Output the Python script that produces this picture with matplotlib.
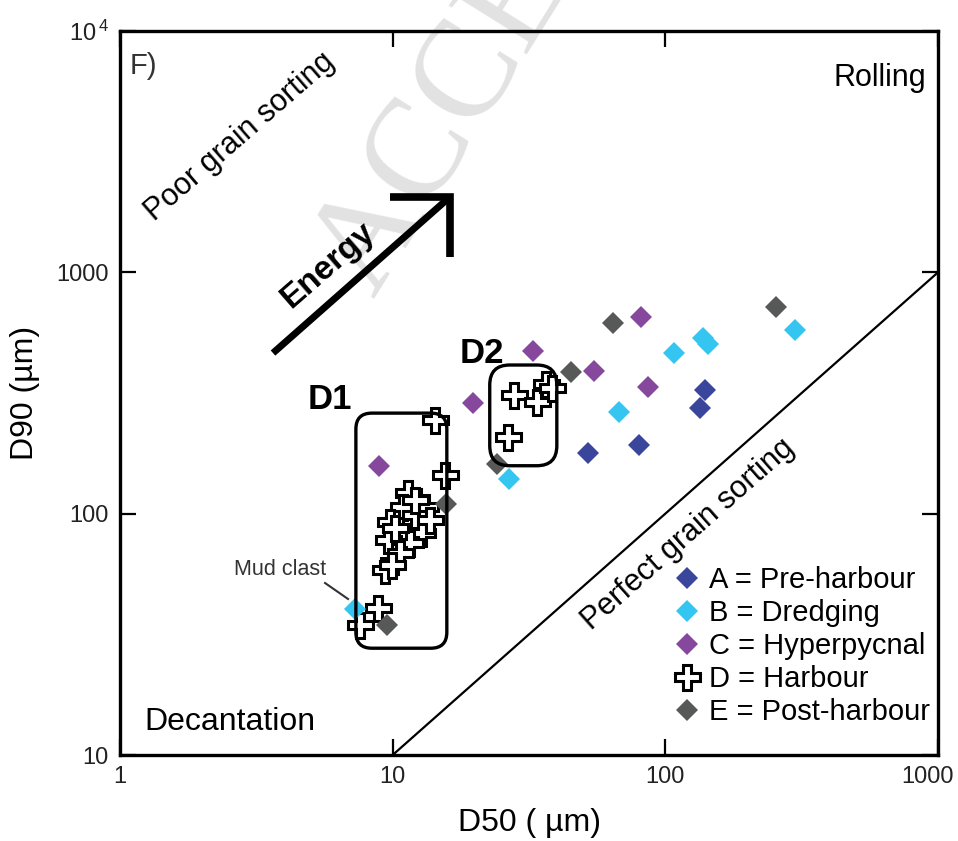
import matplotlib
matplotlib.use('Agg')
import matplotlib.pyplot as plt
from matplotlib.patches import FancyBboxPatch
from matplotlib.transforms import IdentityTransform, ScaledTranslation

plt.rcParams['font.family'] = ['Liberation Sans', 'DejaVu Sans']
plt.rcParams['mathtext.fontset'] = 'custom'
plt.rcParams['mathtext.rm'] = 'Liberation Sans Narrow'

# D50 / D90 values (um)
a_d50 = [139.7, 133.9, 51.9, 80.0]
a_d90 = [325.6, 273.4, 178.9, 192.6]

b_d50 = [107.5, 137.7, 143.7, 299.5, 67.6, 26.8, 7.27]
b_d90 = [462.0, 533.0, 505.0, 577.0, 264.7, 139.3, 40.2]

c_d50 = [81.2, 54.7, 86.5, 32.6, 19.75, 8.93]
c_d90 = [651.6, 391.4, 334.0, 473.7, 288.4, 157.6]

d_d50 = [27.9, 33.9, 36.5, 38.3, 26.5,
         14.3, 15.55, 11.4, 10.9, 13.1, 12.07, 9.77, 12.8, 9.63, 11.6,
         10.6, 9.37, 8.86, 7.59, 12.07, 13.7, 10.2, 9.94]
d_d90 = [310.4, 291.2, 344.7, 330.9, 208.5,
         244.5, 144.7, 121.5, 106.9, 106.9, 98.8, 92.6, 83.0, 77.8, 75.4,
         68.5, 58.4, 40.6, 34.6, 114.0, 94.2, 87.2, 61.3]

e_d50 = [64.1, 254.4, 45.1, 24.1, 15.7, 9.51]
e_d90 = [618.9, 716.9, 387.7, 160.7, 109.7, 34.6]

labels = ['A = Pre-harbour', 'B = Dredging', 'C = Hyperpycnal',
          'D = Harbour', 'E = Post-harbour']
colors = ['#3a469c', '#35c5f1', '#85489d', 'white', '#575958']

# group outlines (d50 min, d50 max, d90 min, d90 max)
d1_box = (7.33, 15.8, 27.7, 261.0)
d2_box = (22.7, 40.0, 158.0, 413.0)

fig = plt.figure(figsize=(9.58, 8.41), dpi=100)
ax = fig.add_axes([120 / 958, 1 - 755 / 841, 818 / 958, 724 / 841])
ax.set_xscale('log')
ax.set_yscale('log')
ax.set_xlim(1, 1000)
ax.set_ylim(10, 10000)

# watermark of the manuscript
ax.text(0.305, 0.625, 'ACCEPTED MANUSCRIPT', transform=fig.transFigure,
        rotation=58, fontsize=100, color='#e2e2e2', family='Liberation Serif',
        ha='left', va='bottom', zorder=0.2, clip_on=False)

# perfect sorting line
ax.plot([10, 1000], [10, 1000], color='k', lw=1.6, zorder=1)

ax.plot(d_d50, d_d90, ls='none', marker='P', ms=18, mfc='white', mec='k',
        mew=2.2, zorder=3, label=labels[3])
ax.plot(a_d50, a_d90, ls='none', marker='D', ms=11, color=colors[0],
        mew=0, zorder=4, label=labels[0])
ax.plot(b_d50, b_d90, ls='none', marker='D', ms=11, color=colors[1],
        mew=0, zorder=4, label=labels[1])
ax.plot(c_d50, c_d90, ls='none', marker='D', ms=11, color=colors[2],
        mew=0, zorder=4, label=labels[2])
ax.plot(e_d50, e_d90, ls='none', marker='D', ms=11, color=colors[4],
        mew=0, zorder=4, label=labels[4])

# rounded boxes around D1 / D2 (drawn in pixels so the corners stay round)
for box, rad in [(d1_box, 16), (d2_box, 20)]:
    (x0, y0), (x1, y1) = ax.transData.transform([(box[0], box[2]), (box[1], box[3])])
    p = FancyBboxPatch((x0, y0), x1 - x0, y1 - y0,
                       boxstyle='round,pad=0,rounding_size=%d' % rad,
                       transform=IdentityTransform(), fill=False,
                       ec='k', lw=2.4, zorder=5)
    ax.add_patch(p)

ax.text(5.9, 296, 'D1', fontsize=25, fontweight='bold', ha='center', va='center')
ax.text(21.3, 463, 'D2', fontsize=25, fontweight='bold', ha='center', va='center')

# energy arrow
ax.plot([3.64, 16.2], [463, 2051], color='k', lw=5, solid_capstyle='butt', zorder=2)
ax.plot([9.75, 16.2, 16.2], [2051, 2051, 1159], color='k', lw=5.5,
        solid_joinstyle='miter', solid_capstyle='butt', zorder=2)
ax.text(5.8, 1070, 'Energy', fontsize=24, fontweight='bold', rotation=41,
        ha='center', va='center')

ax.text(2.75, 3640, 'Poor grain sorting', fontsize=22, rotation=41,
        ha='center', va='center')
ax.text(121, 81.7, 'Perfect grain sorting', fontsize=22, rotation=41.5,
        ha='center', va='center')
ax.text(0.985, 0.935, 'Rolling', fontsize=22, transform=ax.transAxes,
        ha='right', va='center')
ax.text(0.03, 0.045, 'Decantation', fontsize=23, transform=ax.transAxes,
        ha='left', va='center')
ax.text(0.012, 0.952, 'F)', fontsize=21, color='#333333',
        transform=ax.transAxes, ha='left', va='center')

# mud clast note
ax.text(3.86, 58.5, 'Mud clast', fontsize=15.5, color='#333333',
        ha='center', va='center')
ax.plot([5.65, 6.86], [51.6, 44.3], color='#333333', lw=1.5)

ax.set_xticks([1, 10, 100, 1000])
ax.set_xticklabels(['1', '10', '100', '1000'])
ax.set_yticks([10, 100, 1000, 10000])
ax.set_yticklabels(['10', '100', '1000', r'$\mathregular{10^{\,4}}$'])
ax.minorticks_off()
ax.tick_params(which='major', direction='in', length=11.5, width=1.6,
               top=True, right=True, labelsize=17, labelcolor='#222222', pad=8)
for t in ax.get_xticklabels() + ax.get_yticklabels():
    t.set_family(['Liberation Sans Narrow', 'Liberation Sans'])
# last x label sits a bit left of its tick, as in the source figure
last = ax.xaxis.get_major_ticks()[-1].label1
last.set_horizontalalignment('right')
last.set_transform(last.get_transform() + ScaledTranslation(0.16, 0, fig.dpi_scale_trans))
for s in ax.spines.values():
    s.set_linewidth(2.4)

ax.set_xlabel('D50 ( µm)', fontsize=23, labelpad=14)
ax.set_ylabel('D90 (µm)', fontsize=23, labelpad=12)

h, l = ax.get_legend_handles_labels()
hd = dict(zip(l, h))
ax.legend([hd[x] for x in labels], labels, loc='upper left',
          bbox_to_anchor=((673 - 120) / 818, (755 - 566) / 724),
          frameon=False, fontsize=21, handlelength=0.95, handletextpad=0.3,
          labelspacing=0.17, borderpad=0, borderaxespad=0, numpoints=1)

fig.savefig('out.png', dpi=100)
